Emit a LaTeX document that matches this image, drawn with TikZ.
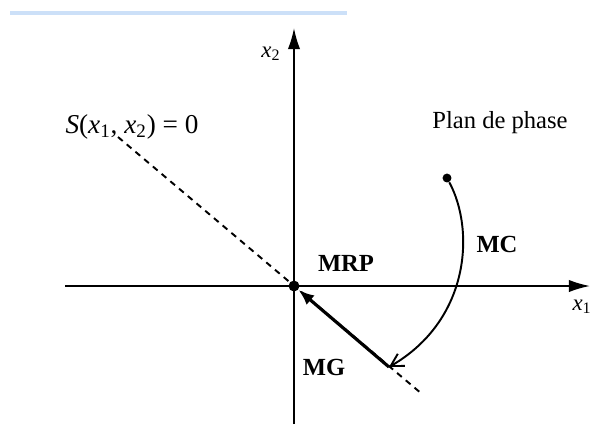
\documentclass[tikz,border=0pt]{standalone}
\usepackage{fontspec}
\setmainfont{Liberation Serif}
\usetikzlibrary{arrows.meta}
\begin{document}
\begin{tikzpicture}[x=0.02cm, y=-0.02cm]

% --- Styles ---
\tikzset{
    axis/.style={line width=1pt, -{Latex[length=12pt, width=7pt]}},
    dot/.style={circle, fill=black, inner sep=2.2pt},
    surface/.style={line width=1.1pt, dash pattern=on 3.5pt off 3pt},
    label/.style={font=\fontsize{13}{15}\selectfont},
    mode/.style={font=\fontsize{14}{16}\selectfont\bfseries}
}

    \useasboundingbox (0,0) rectangle (591,424);

    % Bandeau bleu en haut
    \draw[line width=2.8pt, draw={rgb,255:red,204;green,224;blue,248}] (10,13) -- (347,13);

    % Axes
    \coordinate (xmin) at (65,286);
    \coordinate (xmax) at (590,286);
    \coordinate (ymin) at (294,424);
    \coordinate (ymax) at (294,28);
    \draw[axis] (xmin) -- (xmax);
    \draw[axis] (ymin) -- (ymax);
    \node[label] (x1) at (582,307) {\textit{x}\textsubscript{1}};
    \node[label] (x2) at (271,54) {\textit{x}\textsubscript{2}};

    % Surface de glissement
    \coordinate (s1) at (118,137);
    \coordinate (s2) at (422,394);
    \draw[surface] (s1) -- (s2);
    \node[label, font=\fontsize{15.5}{18}\selectfont] (S) at (132,127) {\textit{S}(\textit{x}\textsubscript{1}, \textit{x}\textsubscript{2}) = 0};

    % Points
    \node[dot] (mrp) at (294,286) {};
    \node[dot, inner sep=1.8pt] (x0) at (447,178) {};
    \coordinate (mg) at (389,367);

    % Trajectoire : MC puis MG
    \draw[line width=1.1pt, -{Straight Barb[length=7pt, width=8pt]}] (x0) .. controls (475,230) and (470,320) .. (mg);
    \draw[line width=1.8pt, -{Latex[length=9pt, width=7pt]}] (mg) -- (mrp);

    \node[label, font=\fontsize{14}{16}\selectfont] (plan) at (500,123) {Plan de phase};
    \node[mode] (mc) at (497,244) {MC};
    \node[mode] (mrplbl) at (346,263) {MRP};
    \node[mode] (mglbl) at (324,367) {MG};

\end{tikzpicture}
\end{document}
